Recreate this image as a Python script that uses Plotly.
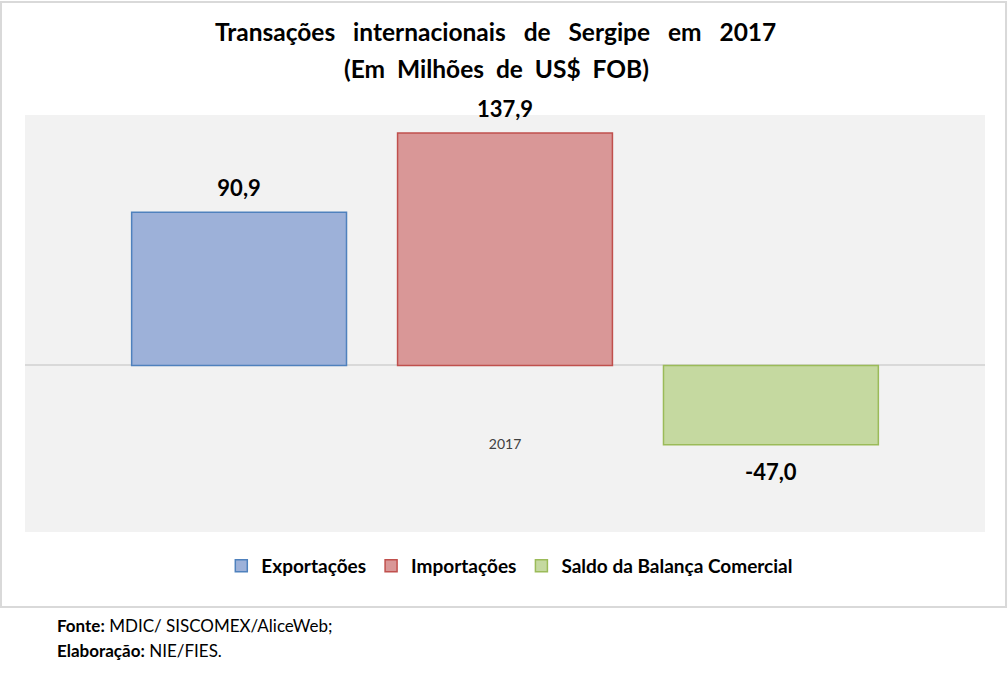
import plotly.graph_objects as go

# Dados (em milhões de US$ FOB)
ano = ["2017"]
series = ["Exportações", "Importações", "Saldo da Balança Comercial"]
valores = [[90.9], [137.9], [-47.0]]

cores = ["#9db1d9", "#d99797", "#c5d9a0"]
bordas = ["#4f81bd", "#c0504d", "#9bbb59"]

fonte = "Lato, Calibri, sans-serif"

# rótulos com uma linha "espaçadora" transparente para afastar o número da barra
rotulo_pos = "<span style='font-size:22px'>%{y:.1f}</span><br><span style='color:rgba(0,0,0,0)'>.</span>"
rotulo_neg = "<span style='font-size:6px;color:rgba(0,0,0,0)'>.</span><br><span style='font-size:22px'>%{y:.1f}</span>"

fig = go.Figure()
for nome, vals, cor, borda in zip(series, valores, cores, bordas):
    positivo = vals[0] >= 0
    fig.add_trace(go.Bar(
        x=ano, y=vals, name=nome,
        marker=dict(color=cor, line=dict(color=borda, width=1.5)),
        texttemplate=rotulo_pos if positivo else rotulo_neg,
        textposition="outside",
        textfont=dict(size=8.6 if positivo else 20, color="black", family=fonte, weight="bold"),
        cliponaxis=False,
    ))

fig.update_layout(
    width=1008, height=675,
    margin=dict(l=25, r=23, t=115, b=143),
    paper_bgcolor="white", plot_bgcolor="#f2f2f2",
    separators=",.",
    barmode="group", bargap=0.169, bargroupgap=0.192,
    font=dict(family=fonte, color="black"),
    showlegend=True,
    legend=dict(
        orientation="h", x=0.505, xanchor="center", y=-0.0815, yanchor="middle",
        font=dict(size=19, family=fonte, weight="bold"),
        itemwidth=30, traceorder="normal",
    ),
    xaxis=dict(
        anchor="free", position=0.235, showline=False, ticks="",
        tickfont=dict(size=14, color="#404040", family=fonte),
        showgrid=False,
    ),
    yaxis=dict(
        range=[-98.8, 148.6], showticklabels=False, showgrid=False,
        zeroline=True, zerolinecolor="#d9d9d9", zerolinewidth=1.5,
    ),
)

# título em duas linhas
fig.add_annotation(text="<b>Transações&nbsp;&nbsp; internacionais&nbsp;&nbsp; de&nbsp;&nbsp; Sergipe&nbsp;&nbsp; em&nbsp;&nbsp; 2017</b>",
                   xref="paper", yref="paper", x=0.49, y=1.2014, xanchor="center", yanchor="middle",
                   showarrow=False, font=dict(size=24.5, family=fonte, color="black"))
fig.add_annotation(text="<b>(Em&nbsp; Milhões&nbsp; de&nbsp; US$&nbsp; FOB)</b>",
                   xref="paper", yref="paper", x=0.491, y=1.1127, xanchor="center", yanchor="middle",
                   showarrow=False, font=dict(size=24.5, family=fonte, color="black"))

# moldura externa do gráfico
fig.add_shape(type="rect", xref="paper", yref="paper",
              x0=-0.025, x1=1.0219, y0=-0.18, y1=1.271,
              line=dict(color="#d9d9d9", width=2), fillcolor="rgba(0,0,0,0)", layer="below")

fig.add_annotation(text="<b>Fonte:</b> MDIC/ SISCOMEX/AliceWeb;", xref="paper", yref="paper",
                   x=0.031, y=-0.225, xanchor="left", yanchor="middle", showarrow=False,
                   font=dict(size=17, family=fonte, color="black"))
fig.add_annotation(text="<b>Elaboração:</b> NIE/FIES.", xref="paper", yref="paper",
                   x=0.031, y=-0.283, xanchor="left", yanchor="middle", showarrow=False,
                   font=dict(size=17, family=fonte, color="black"))

fig.write_html("out.html", config={"displayModeBar": False},
               post_script="document.body.style.margin='0';")
